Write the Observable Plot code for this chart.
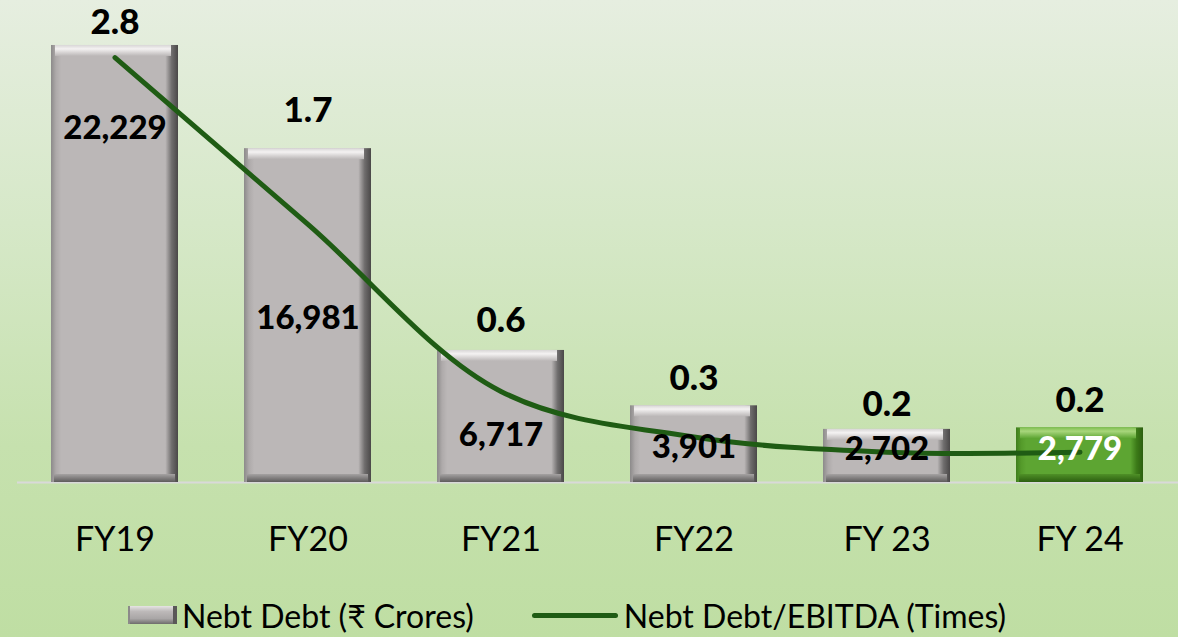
<!DOCTYPE html>
<html>
<head>
<meta charset="utf-8">
<script src="https://cdn.jsdelivr.net/npm/d3@7"></script>
<script src="https://cdn.jsdelivr.net/npm/@observablehq/plot@0.6"></script>
<style>
  html, body { margin: 0; padding: 0; }
  #wrap {
    width: 1178px; height: 637px; position: relative; overflow: hidden;
    background: linear-gradient(180deg, #e6eee0 0%, #d6e8c8 35%, #c6e1ae 70%, #bfdea3 100%);
    font-family: Lato, "Noto Sans", sans-serif;
  }
  #legend {
    position: absolute; left: 128px; top: 596px; height: 38px;
    display: flex; align-items: center; font-size: 32px; color: #000;
  }
  .sw-bar {
    width: 49px; height: 18px; margin-right: 5px;
    background: linear-gradient(180deg, #e6e4e4 0%, #bdb9b9 30%, #a9a6a6 70%, #6e6c6c 100%);
    border-right: 4px solid #5a5858; border-left: 2px solid #8c8a8a; box-sizing: border-box;
  }
  .sw-line { width: 86px; height: 5px; background: #1f5c14; border-radius: 3px; margin-left: 58px; margin-right: 6px; }
</style>
</head>
<body>
<div id="wrap">
  <div id="chart"></div>
  <div id="legend">
    <div class="sw-bar"></div><span>Nebt Debt (₹ Crores)</span>
    <div class="sw-line"></div><span>Nebt Debt/EBITDA (Times)</span>
  </div>
</div>
<script>
const years = ["FY19", "FY20", "FY21", "FY22", "FY 23", "FY 24"];
const netDebt = [22229, 16981, 6717, 3901, 2702, 2779];
const ratio = [2.8, 1.7, 0.6, 0.3, 0.2, 0.2];

const data = years.map((y, i) => ({year: y, debt: netDebt[i], ratio: ratio[i], idx: i}));

// layout helpers (not data)
const ratioToDebt = 7720;                 // secondary axis mapping
const valueLabelFrac = [0.81, 0.49, 0.36, 0.46, 0.62, 0.60];
const ratioLabelDy = [-23, -38, -30, -27, -25, -27];

const gray = data.filter(d => d.year !== "FY 24");
const green = data.filter(d => d.year === "FY 24");

function bevelBars(rows, side, top, bottom) {
  return [
    Plot.barY(rows, {x: "year", y: "debt", fill: side}),
    Plot.barY(rows, {x: "year", y1: "debt", y2: "debt", insetBottom: -11, insetLeft: 4, insetRight: 7, fill: top}),
    Plot.barY(rows, {x: "year", y1: 0, y2: 0, insetTop: -8, insetLeft: 3, insetRight: 3, fill: bottom})
  ];
}

const chart = Plot.plot({
  width: 1178,
  height: 580,
  marginLeft: 17,
  marginRight: 0,
  marginTop: 0,
  marginBottom: 98,
  style: {background: "transparent", fontFamily: "Lato, 'Noto Sans', sans-serif", color: "#000"},
  x: {domain: years, paddingInner: 0.34, paddingOuter: 0.17, label: null},
  y: {domain: [0, 24517], axis: null},
  marks: [
    Plot.ruleY([0], {stroke: "#d9d9d9", strokeWidth: 2}),
    ...bevelBars(gray, "url(#gSide)", "url(#gTop)", "url(#gBot)"),
    ...bevelBars(green, "url(#gSideG)", "url(#gTopG)", "url(#gBotG)"),
    Plot.axisX({tickSize: 0, tickPadding: 44, fontSize: 34, fill: "#000"}),
    Plot.line(data, {x: "year", y: d => d.ratio * ratioToDebt, curve: "catmull-rom", stroke: "#1f5c14", strokeWidth: 5,
      strokeLinecap: "round", style: {filter: "drop-shadow(0px 3px 2px rgba(0,0,0,0.25))"}}),
    Plot.text(data, {x: "year", y: d => d.debt * valueLabelFrac[d.idx], text: d => d3.format(",")(d.debt),
      fontSize: 33, fontWeight: 900, fill: d => d.year === "FY 24" ? "#ffffff" : "#000000"}),
    ...data.map((d, i) => Plot.text([d], {x: "year", y: "debt", text: r => r.ratio.toFixed(1), dy: ratioLabelDy[i],
      fontSize: 35, fontWeight: 900, fill: "#000"}))
  ]
});

const defs = `
<defs>
  <linearGradient id="gSide" x1="0" x2="1" y1="0" y2="0">
    <stop offset="0" stop-color="#8c8a8a"/><stop offset="0.04" stop-color="#aeaaaa"/>
    <stop offset="0.08" stop-color="#bbb7b7"/><stop offset="0.9" stop-color="#bbb7b7"/>
    <stop offset="0.95" stop-color="#6f6d6d"/><stop offset="1" stop-color="#4a4848"/>
  </linearGradient>
  <linearGradient id="gTop" x1="0" x2="0" y1="0" y2="1">
    <stop offset="0" stop-color="#d8d6d6"/><stop offset="0.35" stop-color="#f4f2f2"/><stop offset="1" stop-color="#bbb7b7"/>
  </linearGradient>
  <linearGradient id="gBot" x1="0" x2="0" y1="0" y2="1">
    <stop offset="0" stop-color="#a5a2a2"/><stop offset="1" stop-color="#5e5c5c"/>
  </linearGradient>
  <linearGradient id="gSideG" x1="0" x2="1" y1="0" y2="0">
    <stop offset="0" stop-color="#3f7e1c"/><stop offset="0.04" stop-color="#549a2a"/>
    <stop offset="0.08" stop-color="#5da532"/><stop offset="0.9" stop-color="#5da532"/>
    <stop offset="0.95" stop-color="#3c7a18"/><stop offset="1" stop-color="#2c5f10"/>
  </linearGradient>
  <linearGradient id="gTopG" x1="0" x2="0" y1="0" y2="1">
    <stop offset="0" stop-color="#7fbf50"/><stop offset="0.35" stop-color="#a8d67c"/><stop offset="1" stop-color="#5da532"/>
  </linearGradient>
  <linearGradient id="gBotG" x1="0" x2="0" y1="0" y2="1">
    <stop offset="0" stop-color="#4f9027"/><stop offset="1" stop-color="#2c5f10"/>
  </linearGradient>
</defs>`;
chart.insertAdjacentHTML("afterbegin", defs);
document.getElementById("chart").appendChild(chart);
</script>
</body>
</html>
